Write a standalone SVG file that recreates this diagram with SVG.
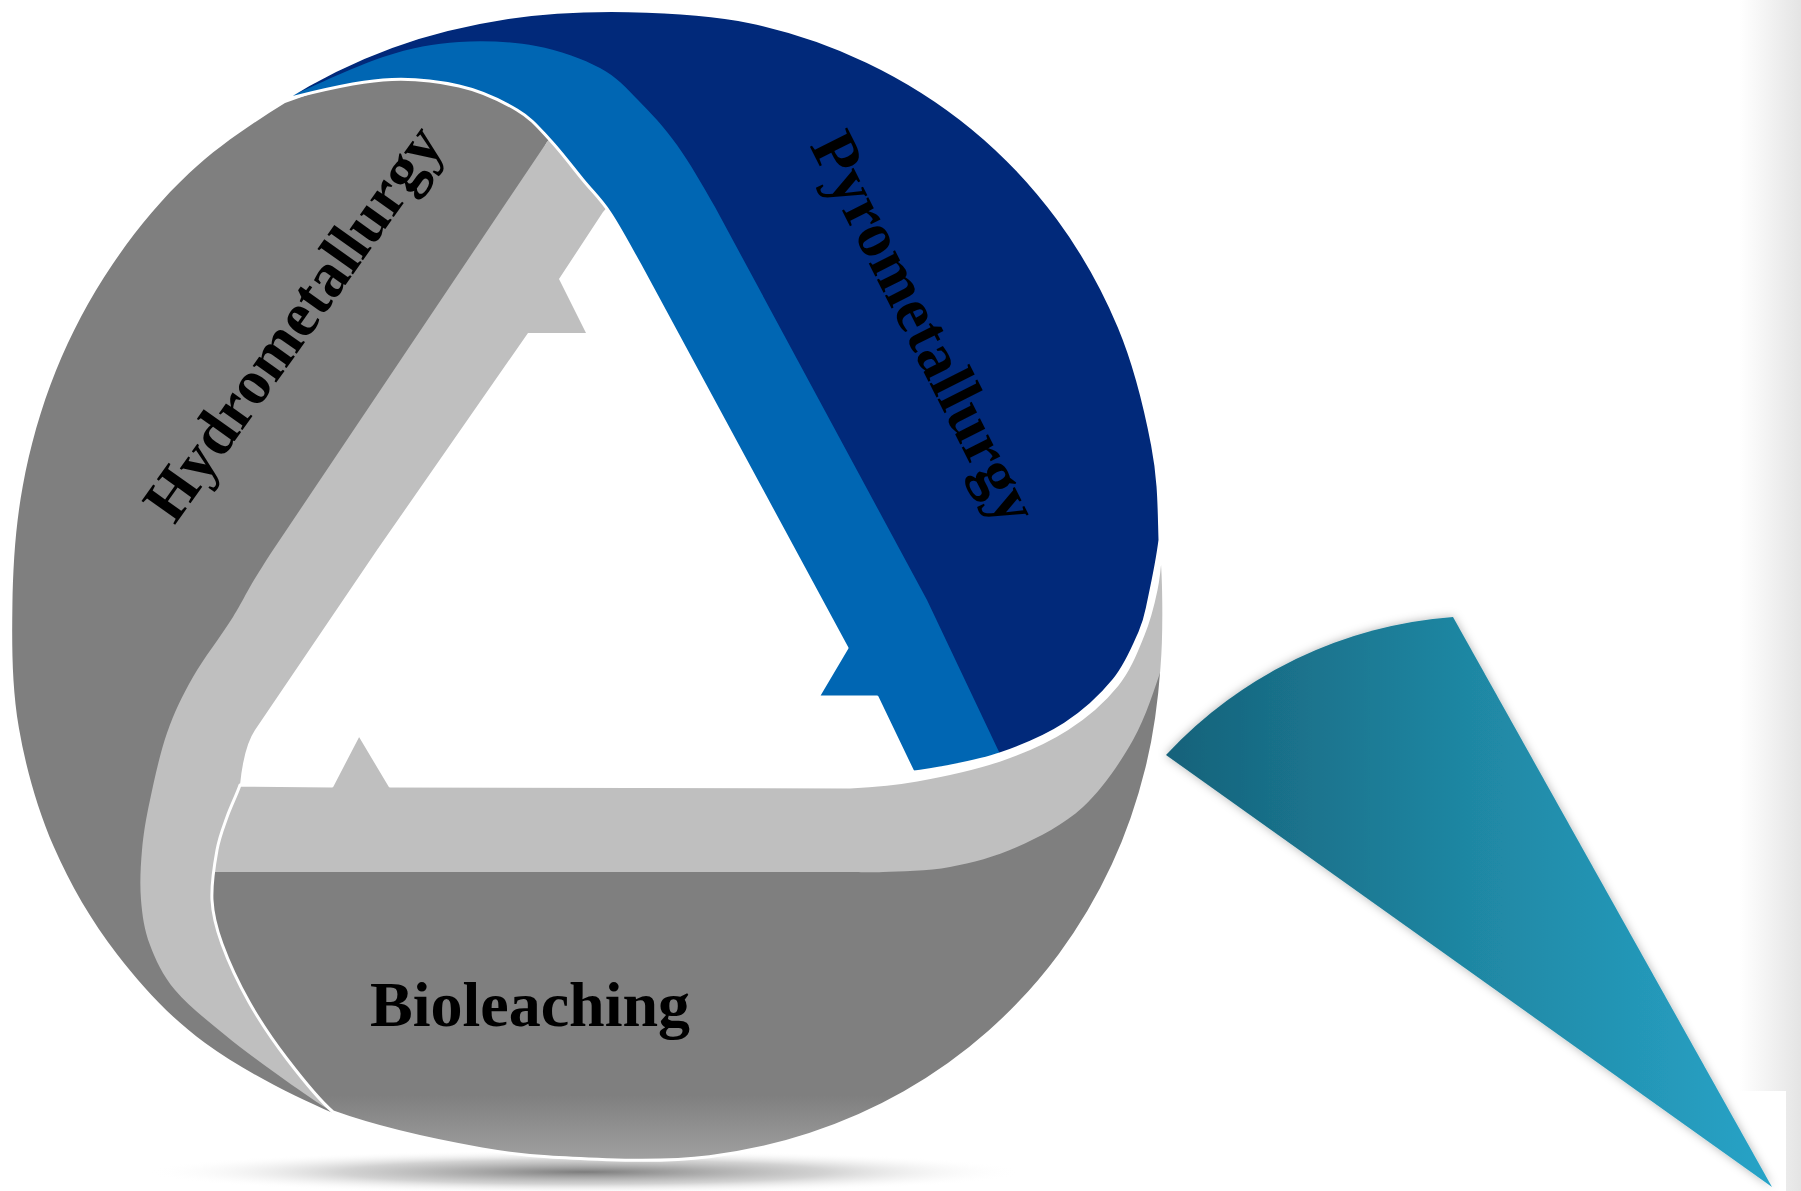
<svg xmlns="http://www.w3.org/2000/svg" xmlns:xlink="http://www.w3.org/1999/xlink" width="1801" height="1191" viewBox="0 0 1801 1191">
  <style>
    .dark-gray { fill: #7f7f7f; }
    .light-gray { fill: #bfbfbf; }
    .dark-blue { fill: #01297a; }
    .light-blue { fill: #0066b3; }
    .edge { fill: none; stroke: #ffffff; stroke-width: 3; stroke-linejoin: round; }
    .label { font-family: "Liberation Serif", "Times New Roman", serif; font-weight: bold; fill: #000000; }
  </style>
  <defs>
    <!-- outline of the bottom leaf (band + body) -->
    <path id="bioShape" d="M 240,785 L 332,786 L 359,734 L 390,786 L 850,787 C 872.8,785.8 892,784.5 917,780 C 942,775.5 975,768.5 1000,760 C 1025,751.5 1047.5,741.5 1067,729 C 1086.5,716.5 1104.3,700.7 1117,685 C 1129.7,669.3 1136.5,650.8 1143,635 C 1149.5,619.2 1153,604.5 1156,590 C 1159,575.5 1159.8,563 1161,548 C 1164,570 1165,630 1162,667 C 1159.6,700.6 1155.2,734.6 1147,767.6 C 1138.9,800.6 1127.6,834 1113.1,865.2 C 1098.6,896.4 1080.6,927 1060,954.8 C 1039.4,982.6 1015.3,1008.9 989.4,1031.8 C 963.5,1054.8 934.5,1075.4 904.5,1092.5 C 874.5,1109.6 842.1,1123.7 809.6,1134.4 C 777.1,1145.1 742.9,1152.5 709.3,1156.7 C 675.7,1160.9 645.9,1161 608,1159.7 C 570.1,1158.4 527.8,1157 482,1149 C 436.2,1140.9 376.4,1127.7 333,1112 C 317.5,1098.5 301,1077.3 287,1059 C 273,1040.7 259.8,1021.2 249,1002 C 238.2,982.8 228.2,961 222,944 C 215.8,927 212.8,915.7 212,900 C 211.2,884.3 214.5,863.8 217,850 C 219.5,836.2 223.2,827.8 227,817 C 230.8,806.2 236.8,794.5 240,785 Z"/>
    <!-- outline of the upper-right leaf -->
    <path id="blueShape" d="M 283,100 C 316.7,78.9 354.2,60.3 391.7,46.6 C 429.2,32.9 468.7,23.6 508.1,17.6 C 547.5,11.6 587.9,10 628.2,10.7 C 668.5,11.4 710,13.3 749.8,21.7 C 789.6,30.1 829.9,43.6 867,61.3 C 904.1,79 940.4,101.8 972.3,128 C 1004.2,154.2 1033.6,185.5 1058.1,218.7 C 1082.6,251.9 1103.4,289.2 1119.2,326.9 C 1135,364.7 1145.8,409.7 1152.6,445.2 C 1159.4,480.7 1159,506.5 1160,540 C 1157.7,558.3 1152.3,584.7 1149,600 C 1145.7,615.3 1145.8,618.7 1140,632 C 1134.2,645.3 1126.5,664.7 1114,680 C 1101.5,695.3 1084,711.7 1065,724 C 1046,736.3 1020.8,746.7 1000,754 C 979.2,761.3 954.5,765 940,768 C 925.5,771 923,770.7 913,772 L 877,697 L 818,697 L 847,648 L 640,265 C 630,247.2 619.5,227.2 610,213 C 600.5,198.8 593,192.2 583,180 C 573,167.8 561,151.7 550,140 C 539,128.3 532.2,119 517,110 C 501.8,101 481.3,91 459,86 C 436.7,81 412.3,77.7 383,80 C 353.7,82.3 306.8,93.7 283,100 Z"/>
    <clipPath id="bioClip">
      <use xlink:href="#bioShape"/>
    </clipPath>
    <linearGradient id="bioBody" gradientUnits="userSpaceOnUse" x1="0" y1="1095" x2="0" y2="1165">
      <stop offset="0" stop-color="#7f7f7f"/>
      <stop offset="1" stop-color="#a3a3a3"/>
    </linearGradient>
    <radialGradient id="floorShadow" cx="0.5" cy="0.5" r="0.5">
      <stop offset="0" stop-color="#6e6e6e" stop-opacity="0.9"/>
      <stop offset="0.55" stop-color="#9c9c9c" stop-opacity="0.45"/>
      <stop offset="1" stop-color="#ffffff" stop-opacity="0"/>
    </radialGradient>
    <linearGradient id="tealFill" gradientUnits="userSpaceOnUse" x1="1166" y1="0" x2="1772" y2="0">
      <stop offset="0" stop-color="#16627a"/>
      <stop offset="0.5" stop-color="#1f87a3"/>
      <stop offset="1" stop-color="#28a3c7"/>
    </linearGradient>
    <linearGradient id="sideFade" gradientUnits="userSpaceOnUse" x1="1740" y1="0" x2="1801" y2="0">
      <stop offset="0" stop-color="#ffffff"/>
      <stop offset="1" stop-color="#e4e4e4"/>
    </linearGradient>
    <filter id="softShadow" x="-10%" y="-10%" width="120%" height="120%">
      <feDropShadow dx="0" dy="0" stdDeviation="5" flood-color="#000000" flood-opacity="0.3"/>
    </filter>
  </defs>

  <rect x="0" y="0" width="1801" height="1191" fill="#ffffff"/>
  <!-- faint page edge on the right -->
  <rect x="1740" y="0" width="61" height="1191" fill="url(#sideFade)"/>
  <rect x="1671" y="1091" width="115" height="100" fill="#ffffff"/>

  <!-- floor shadow under the wheel -->
  <ellipse cx="585" cy="1172" rx="440" ry="22" fill="url(#floorShadow)"/>

  <!-- left leaf -->
  <g id="node-hydrometallurgy">
    <path class="dark-gray" d="M 285,103 C 251.3,124.1 218.1,146.1 189.3,173.1 C 160.5,200.1 134.4,232 112.1,265 C 89.8,298 70.7,334.1 55.8,371 C 40.9,407.9 29.9,447.2 22.7,486.4 C 15.5,525.6 13,565.9 12.4,606.1 C 11.8,646.3 12,687.8 18.9,727.9 C 25.8,768 37.4,808.9 53.7,846.6 C 70,884.3 91.7,921.4 116.9,954.1 C 142.1,986.8 168.8,1016.2 204.8,1042.7 C 240.8,1069.2 292.4,1095.7 333,1113 L 300,1000 L 200,900 L 190,800 L 210,700 L 300,600 L 547,142 L 570,120 L 470,70 L 383,68 Z"/>
    <path class="light-gray" d="M 547,142 L 273,550 C 243.5,595.2 246.3,595.8 233,617 C 219.7,638.2 204,657.7 193,677 C 182,696.3 174.2,712.5 167,733 C 159.8,753.5 154.2,780.5 150,800 C 145.8,819.5 143.5,833.3 142,850 C 140.5,866.7 139.7,884.2 141,900 C 142.3,915.8 144.3,930 150,945 C 155.7,960 162.5,975 175,990 C 187.5,1005 206.7,1020 225,1035 C 243.3,1050 267,1067.2 285,1080 C 303,1092.8 317.2,1102.8 333,1112 L 300,1000 L 262,870 L 246,800 L 240,785 Q 243.8,746.6 255,730 L 377,550 L 528,333 L 586,333 L 559,279 L 603,212 L 640,170 L 570,120 Z"/>
    <text class="label" font-size="63" text-anchor="middle" transform="translate(310 335) rotate(-54.6)">Hydrometallurgy</text>
  </g>

  <!-- bottom leaf -->
  <g id="node-bioleaching">
    <use xlink:href="#bioShape" fill="url(#bioBody)"/>
    <path class="light-gray" clip-path="url(#bioClip)" d="M 150,786 L 332,786 L 359,734 L 390,786 L 850,787 C 872.8,785.8 892,784.5 917,780 C 942,775.5 975,768.5 1000,760 C 1025,751.5 1047.5,741.5 1067,729 C 1086.5,716.5 1104.3,700.7 1117,685 C 1129.7,669.3 1136.5,650.8 1143,635 C 1149.5,619.2 1153,604.5 1156,590 C 1159,575.5 1159.8,563 1161,548 L 1200,548 L 1200,667 L 1162,667 C 1155,687 1146.2,716.7 1133,740 C 1119.8,763.3 1102.3,789.2 1083,807 C 1063.7,824.8 1039.2,837 1017,847 C 994.8,857 972.3,862.8 950,867 C 927.7,871.2 899.7,871.2 883,872 C 866.3,872.8 863.8,872 850,872 L 150,872 Z"/>
    <use xlink:href="#bioShape" class="edge"/>
    <text class="label" font-size="64" x="370" y="1026">Bioleaching</text>
  </g>

  <!-- upper-right leaf -->
  <g id="node-pyrometallurgy">
    <use xlink:href="#blueShape" class="dark-blue"/>
    <path class="light-blue" d="M 283,100 C 305.2,89.8 353.7,66.7 383,57 C 412.3,47.3 433.5,43.8 459,42 C 484.5,40.2 512.5,41.7 536,46 C 559.5,50.3 583,59 600,68 C 617,77 625.2,87.2 638,100 C 650.8,112.8 664.2,127.2 677,145 C 689.8,162.8 702.8,185.8 715,207 L 927,600 L 1000,754 C 979.2,761.3 954.5,765 940,768 C 925.5,771 923,770.7 913,772 L 877,697 L 818,697 L 847,648 L 640,265 C 630,247.2 619.5,227.2 610,213 C 600.5,198.8 593,192.2 583,180 C 573,167.8 561,151.7 550,140 C 539,128.3 532.2,119 517,110 C 501.8,101 481.3,91 459,86 C 436.7,81 412.3,77.7 383,80 C 353.7,82.3 306.8,93.7 283,100 Z"/>
    <use xlink:href="#blueShape" class="edge"/>
    <text class="label" font-size="64" text-anchor="middle" transform="translate(906 337) rotate(63.2)">Pyrometallurgy</text>
  </g>

  <!-- callout wedge -->
  <g id="callout">
    <path d="M 1166,755 A 436 436 0 0 1 1453,617 L 1772,1187 Z" fill="url(#tealFill)" filter="url(#softShadow)"/>
  </g>
</svg>
